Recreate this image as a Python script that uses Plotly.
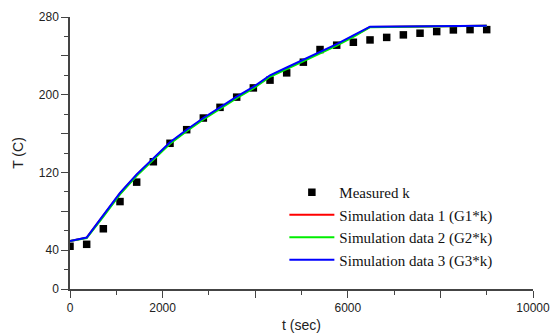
import plotly.graph_objects as go

# Measured data
t_meas = [0, 360, 720, 1080, 1440, 1800, 2160, 2520, 2880, 3240, 3600, 3960, 4320,
          4680, 5040, 5400, 5760, 6120, 6480, 6840, 7200, 7560, 7920, 8280, 8640, 9000]
T_meas = [44, 46, 62, 90, 110, 131, 150, 164, 176, 187, 197.5, 207, 215,
          222.5, 233.5, 246.5, 251, 254, 256.4, 259, 261.6, 263.3, 265, 266.7, 267, 267]

# Simulation data
t_sim = [0, 360, 720, 1080, 1440, 1800, 2160, 2520, 2880, 3240, 3600, 3960, 4320,
         4680, 5040, 5400, 5760, 6120, 6480, 9000]
T_sim1 = [49.5, 52.8, 75.5, 98.3, 117.3, 133.3, 150.3, 163.3, 175.3, 186.3, 197.3, 207.3,
          219.3, 227.3, 235.3, 243.3, 251.3, 260.3, 269.8, 271]
T_sim2 = [49.3, 52.5, 74.5, 97.5, 116.5, 132.5, 149.5, 162.5, 174.5, 185.5, 196.5, 206.5,
          218.5, 226.5, 234.5, 242.5, 250.5, 259.5, 269.5, 271]
T_sim3 = [49.5, 53, 76, 99, 118, 134, 151, 164, 176, 187, 198, 208,
          220, 228, 236, 244, 252, 261, 270, 271]

names = ["Measured k", "Simulation data 1 (G1*k)", "Simulation data 2 (G2*k)",
         "Simulation data 3 (G3*k)"]

x_tickvals = [0, 2000, 4000, 6000, 8000, 10000]
x_ticktext = ["0", "2000", "", "6000", "", "10000"]
y_tickvals = [0, 40, 80, 120, 160, 200, 240, 280]
y_ticktext = ["0", "40", "", "120", "", "200", "", "280"]

fig = go.Figure()
fig.add_trace(go.Scatter(x=t_meas, y=T_meas, mode="markers", name=names[0],
                         marker=dict(symbol="square", size=7.5, color="black")))
fig.add_trace(go.Scatter(x=t_sim, y=T_sim1, mode="lines", name=names[1],
                         line=dict(color="#ff0000", width=2)))
fig.add_trace(go.Scatter(x=t_sim, y=T_sim2, mode="lines", name=names[2],
                         line=dict(color="#00ee00", width=2)))
fig.add_trace(go.Scatter(x=t_sim, y=T_sim3, mode="lines", name=names[3],
                         line=dict(color="#0000ff", width=2)))

axis_common = dict(
    showline=True, linecolor="#444", linewidth=1.5, mirror=False, automargin=False,
    showgrid=False, zeroline=False, ticks="outside", ticklen=7, tickwidth=1.2,
    tickcolor="#444", tickfont=dict(family="Liberation Sans, Arial", size=12, color="#222"),
)

fig.update_layout(
    width=552, height=336,
    margin=dict(l=70, r=19, t=17, b=47),
    paper_bgcolor="white", plot_bgcolor="white",
    showlegend=True,
    legend=dict(x=0.463, xanchor="left", y=0.415, yanchor="top",
                bgcolor="rgba(0,0,0,0)", borderwidth=0, itemwidth=45,
                font=dict(family="Liberation Serif, Times New Roman", size=15, color="#111")),
    xaxis=dict(range=[0, 10000], tickmode="array", tickvals=x_tickvals, ticktext=x_ticktext,
               minor=dict(dtick=1000, tick0=0, ticks="outside", ticklen=4, tickcolor="#444"),
               title=dict(text="t (sec)", standoff=6,
                          font=dict(family="Liberation Sans, Arial", size=14, color="#222")),
               **axis_common),
    yaxis=dict(range=[0, 280], tickmode="array", tickvals=y_tickvals, ticktext=y_ticktext,
               minor=dict(dtick=20, tick0=0, ticks="outside", ticklen=4, tickcolor="#444"),
               title=dict(text="T (C)", standoff=12,
                          font=dict(family="Liberation Sans, Arial", size=14, color="#222")),
               **axis_common),
)

fig.write_html("out.html")
